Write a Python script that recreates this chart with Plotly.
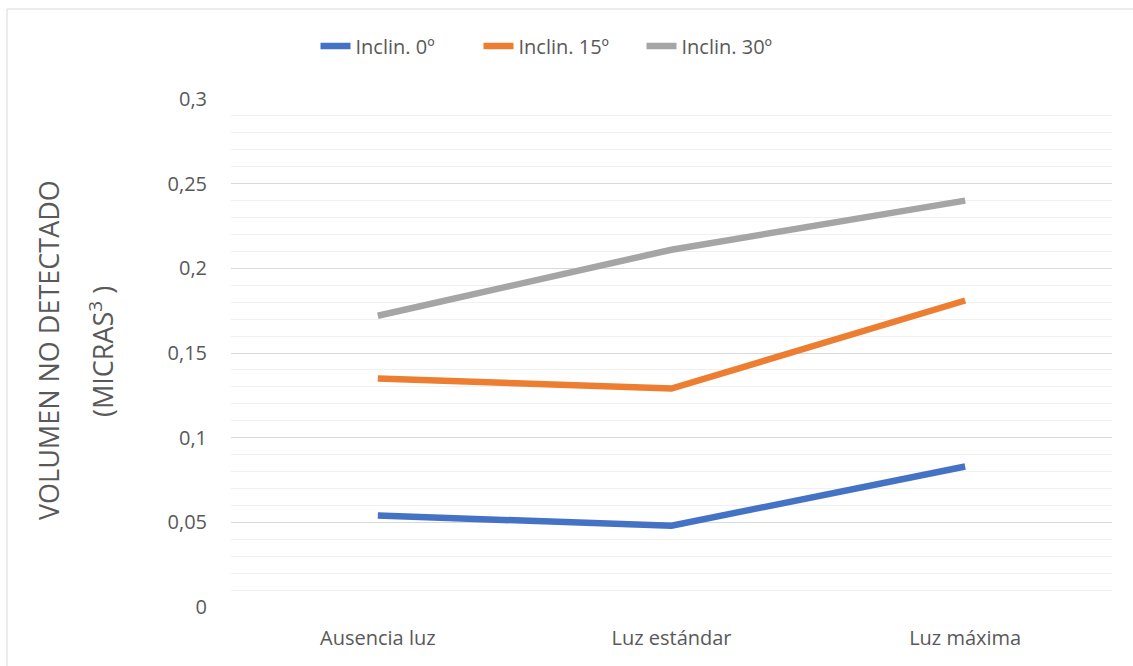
import plotly.graph_objects as go

categories = ["Ausencia luz", "Luz estándar", "Luz máxima"]
series_names = ["Inclin. 0º", "Inclin. 15º", "Inclin. 30º"]
incl_0 = [0.054, 0.048, 0.083]
incl_15 = [0.135, 0.129, 0.181]
incl_30 = [0.172, 0.211, 0.240]
tick_vals = [0, 0.05, 0.1, 0.15, 0.2, 0.25, 0.3]
tick_text = ["0", "0,05", "0,1", "0,15", "0,2", "0,25", "0,3"]
y_title_lines = ["VOLUMEN NO DETECTADO", "(MICRAS<sup>3</sup> )"]

colors = ["#4472C4", "#ED7D31", "#A5A5A5"]
font_family = "Open Sans, Liberation Sans, sans-serif"
text_color = "#595959"

fig = go.Figure()
for name, vals, col in zip(series_names, [incl_0, incl_15, incl_30], colors):
    fig.add_trace(go.Scatter(
        x=categories, y=vals, name=name, mode="lines",
        line=dict(color=col, width=6.5),
    ))

W, H = 1133, 666
ml, mr, mt, mb = 231, 21, 99, 59
pw, ph = W - ml - mr, H - mt - mb

def px_x(p):
    return (p - ml) / pw

def px_y(p):
    return (H - mb - p) / ph

# y-axis title drawn as two rotated lines with wide spacing
title_annotations = [
    dict(text=y_title_lines[0], x=px_x(48), y=px_y(350)),
    dict(text=y_title_lines[1], x=px_x(101), y=px_y(352)),
]
for a in title_annotations:
    a.update(xref="paper", yref="paper", xanchor="center", yanchor="middle",
             textangle=-90, showarrow=False,
             font=dict(size=27, color=text_color, family=font_family))

fig.update_layout(
    width=W, height=H,
    margin=dict(l=ml, r=mr, t=mt, b=mb, autoexpand=False),
    paper_bgcolor="white", plot_bgcolor="white",
    font=dict(family=font_family, color=text_color, size=20),
    showlegend=True,
    legend=dict(
        orientation="h", x=px_x(560), xanchor="center",
        y=px_y(46), yanchor="middle",
        font=dict(size=20, color=text_color),
        traceorder="normal", entrywidth=118, entrywidthmode="pixels",
    ),
    xaxis=dict(
        range=[-0.5, 2.5], showgrid=False, zeroline=False,
        showline=False, ticks="", tickangle=0,
        tickfont=dict(size=20, color=text_color),
        ticklabelstandoff=17,
    ),
    yaxis=dict(
        range=[0, 0.3], tickvals=tick_vals, ticktext=tick_text,
        showgrid=True, gridcolor="#d9d9d9", gridwidth=1.3,
        zeroline=False, showline=False, ticks="",
        tickfont=dict(size=20, color=text_color),
        ticklabelstandoff=23,
        minor=dict(dtick=0.01, showgrid=True, gridcolor="#f0f0f0", gridwidth=1.3),
    ),
    annotations=title_annotations,
    shapes=[dict(
        type="rect", xref="paper", yref="paper",
        x0=px_x(7), x1=px_x(1200), y0=px_y(720), y1=px_y(9),
        line=dict(color="#d9d9d9", width=1), fillcolor="rgba(0,0,0,0)",
        layer="below",
    )],
)

fig.write_html("out.html")
